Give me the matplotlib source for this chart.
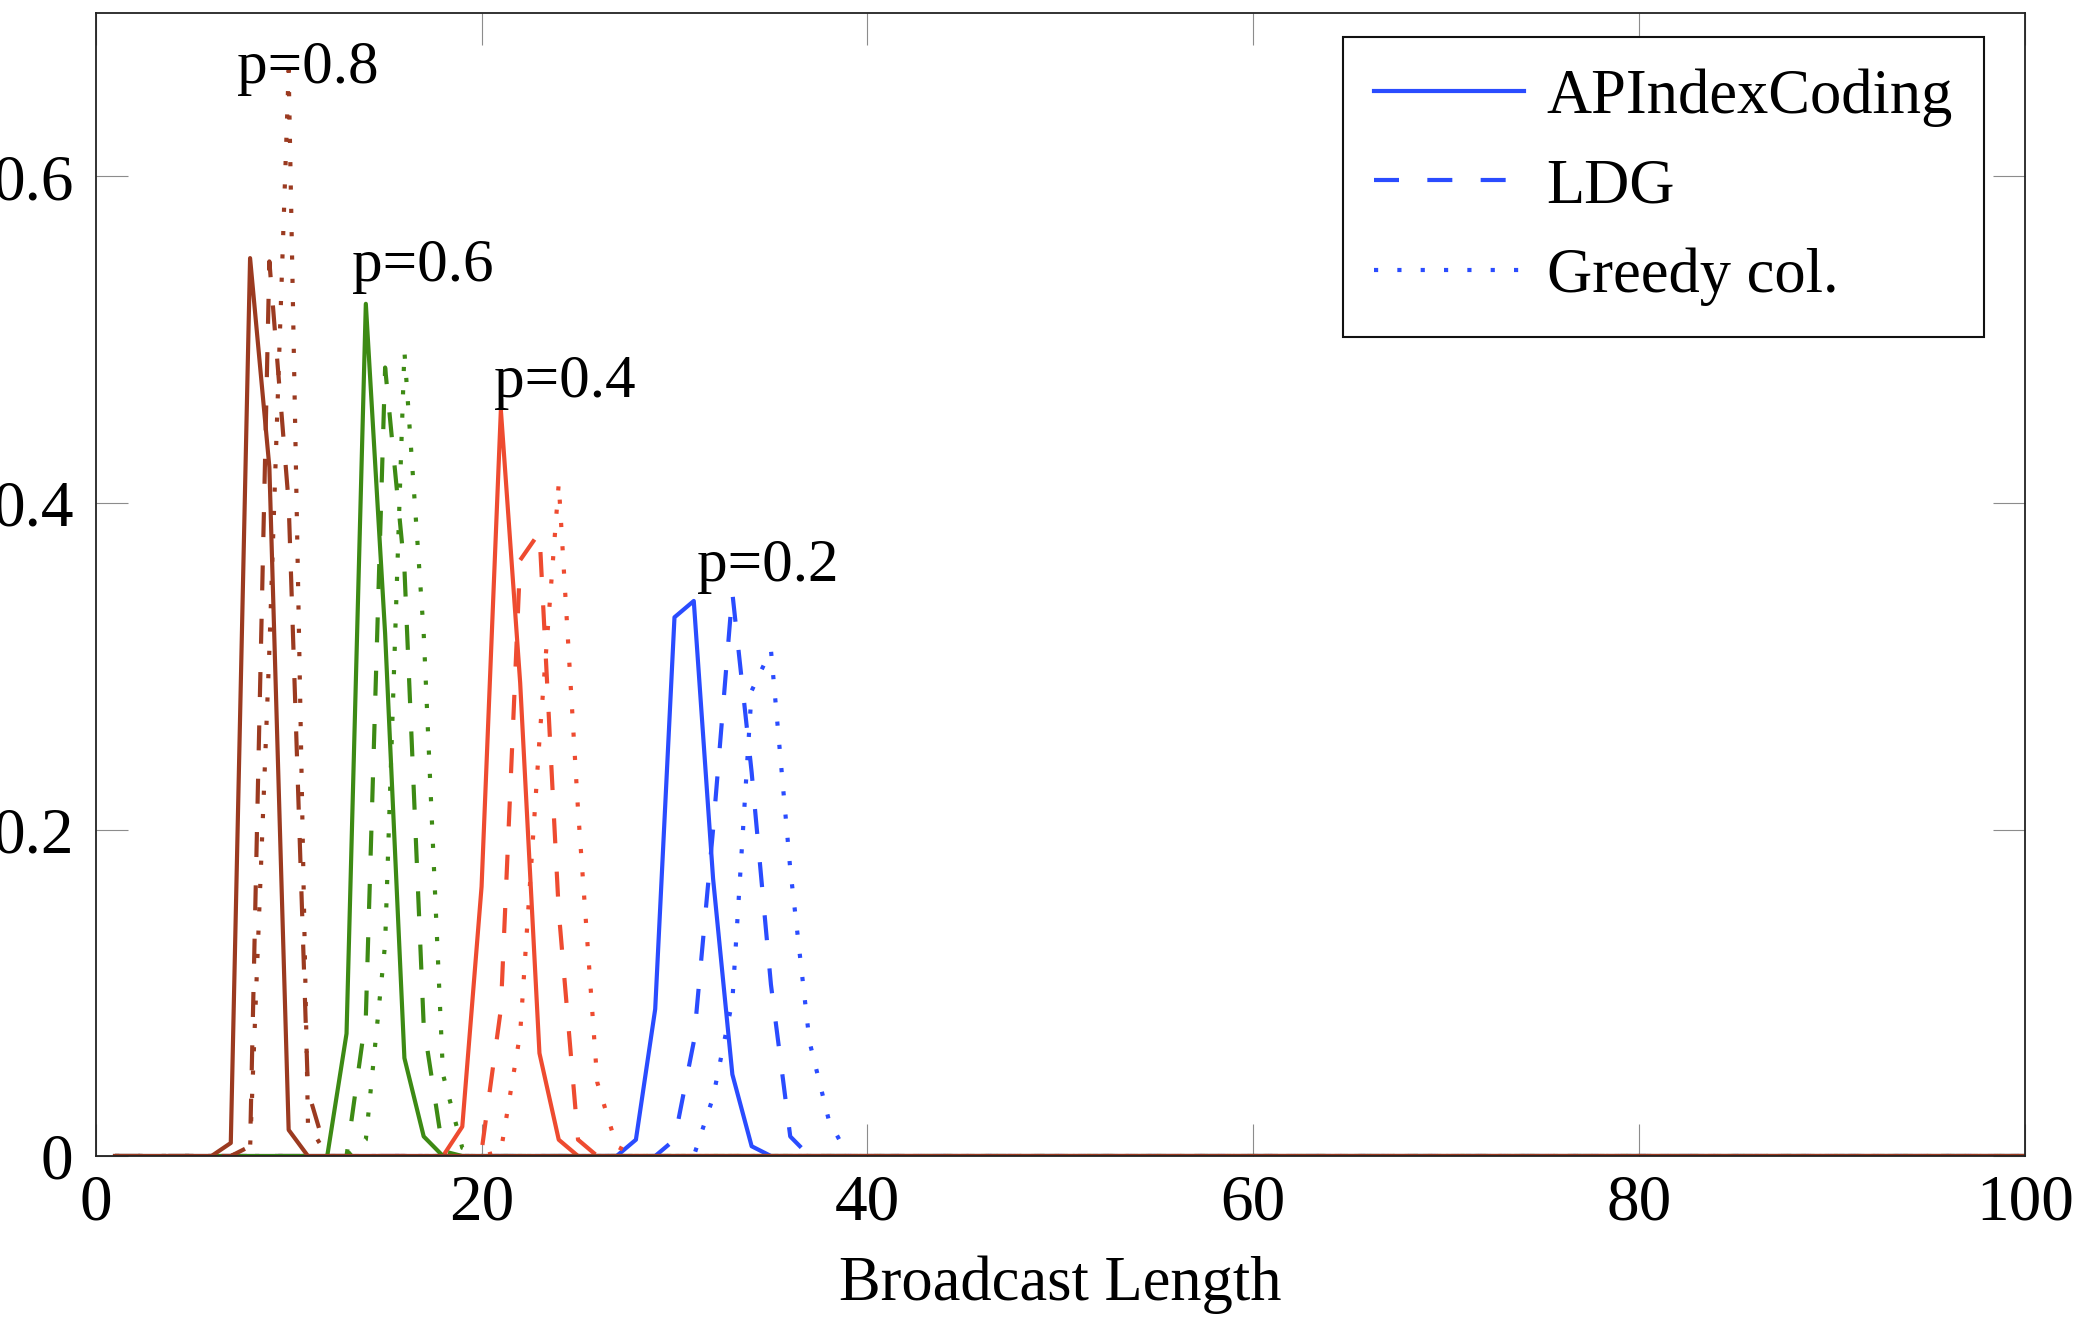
import numpy as np
import matplotlib.pyplot as plt

plt.rcParams['font.family'] = ['Liberation Serif', 'DejaVu Serif']

lengths = np.arange(1, 101)

probs = ['0.2', '0.4', '0.6', '0.8']
colors = ['#2a4cff', '#ee4b30', '#3d8a14', '#9b3a20']
methods = ['APIndexCoding', 'LDG', 'Greedy col.']

# each run starts at the given broadcast length, everything else is 0
apindex_start = [27, 18, 12, 6]
apindex_vals = [
    [0.0, 0.01, 0.09, 0.33, 0.34, 0.17, 0.05, 0.006, 0.0],
    [0.0, 0.018, 0.165, 0.457, 0.29, 0.063, 0.01, 0.0],
    [0.0, 0.075, 0.522, 0.32, 0.06, 0.012, 0.0],
    [0.0, 0.008, 0.55, 0.422, 0.016, 0.0],
]
ldg_start = [29, 19, 12, 7]
ldg_vals = [
    [0.0, 0.01, 0.07, 0.2, 0.345, 0.235, 0.105, 0.012, 0.0],
    [0.0, 0.003, 0.09, 0.365, 0.382, 0.15, 0.01, 0.0],
    [0.0, 0.0, 0.085, 0.483, 0.36, 0.08, 0.003, 0.0],
    [0.0, 0.006, 0.548, 0.4, 0.04, 0.0],
]
greedy_start = [31, 20, 13, 7]
greedy_vals = [
    [0.0, 0.036, 0.095, 0.285, 0.31, 0.176, 0.07, 0.022, 0.0],
    [0.0, 0.003, 0.075, 0.255, 0.412, 0.212, 0.045, 0.006, 0.0],
    [0.0, 0.01, 0.13, 0.493, 0.32, 0.05, 0.005, 0.0],
    [0.0, 0.005, 0.31, 0.665, 0.02, 0.0],
]


def full_series(start, vals):
    y = np.zeros(len(lengths))
    i = start - lengths[0]
    y[i:i + len(vals)] = vals
    return y


fig = plt.figure(figsize=(20.86, 13.23), dpi=100)
ax = fig.add_axes([0.0459, 0.1262, 0.9248, 0.8638])

lw = 3.0
styles = [dict(linestyle='-'),
          dict(linestyle=(0, (6.0, 6.8))),
          dict(linestyle=(0, (1.0, 4.6)))]

for k, p in enumerate(probs):
    data = [(apindex_start[k], apindex_vals[k]),
            (ldg_start[k], ldg_vals[k]),
            (greedy_start[k], greedy_vals[k])]
    for m, (start, vals) in enumerate(data):
        ax.plot(lengths, full_series(start, vals), color=colors[k], lw=lw,
                label=methods[m] if k == 0 else None, **styles[m])

# p labels above each group of peaks
ax.text(34.83, 0.352, 'p=0.2', fontsize=44, ha='center', va='baseline')
ax.text(24.31, 0.465, 'p=0.4', fontsize=44, ha='center', va='baseline')
ax.text(16.93, 0.536, 'p=0.6', fontsize=44, ha='center', va='baseline')
ax.text(10.97, 0.657, 'p=0.8', fontsize=44, ha='center', va='baseline')

ax.set_xlim(0, 100)
ax.set_ylim(0, 0.7)
ax.set_xticks([0, 20, 40, 60, 80, 100])
ax.set_yticks([0, 0.2, 0.4, 0.6])
ax.set_yticklabels(['0', '0.2', '0.4', '0.6'])
ax.tick_params(direction='in', length=23, width=0.8, color='#8c8c8c',
               top=True, right=True, labelsize=47, pad=13)
ax.tick_params(axis='y', pad=16)
for s in ax.spines.values():
    s.set_linewidth(1.3)
    s.set_color('#222222')

ax.set_xlabel('Broadcast Length', fontsize=45, labelpad=16)

leg = ax.legend(loc='upper right', bbox_to_anchor=(0.979, 0.979),
                borderaxespad=0, fontsize=45, frameon=True, fancybox=False,
                framealpha=1, edgecolor='#111111', handlelength=2.4,
                handletextpad=0.36, labelspacing=0.5, borderpad=0.5)
leg.get_frame().set_linewidth(1.5)

fig.savefig('out.png', dpi=100)
